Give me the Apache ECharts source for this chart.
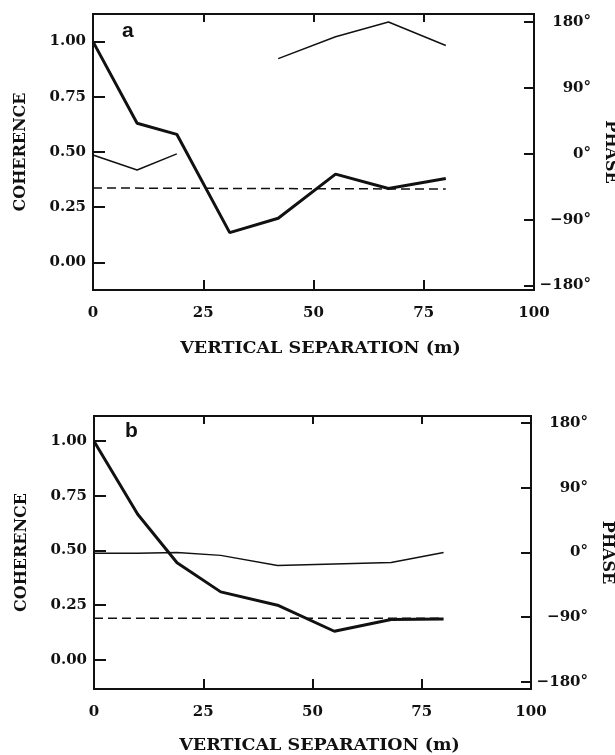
<!DOCTYPE html>
<html>
<head>
<meta charset="utf-8">
<script src="https://cdn.jsdelivr.net/npm/echarts@6/dist/echarts.min.js"></script>
<style>
  html, body { margin: 0; padding: 0; background: #fff; }
  #chart { width: 615px; height: 755px; }
</style>
</head>
<body>
<div id="chart"></div>
<script>
// panel a
const sepA = [0, 10, 19, 31, 42, 55, 67, 80];
const cohA = [1.0, 0.63, 0.58, 0.135, 0.20, 0.40, 0.335, 0.38];
const phaseA = [-1.5, -22, 0, null, 130, 160, 180, 148];
const sigA = [0.337, 0.332];

// panel b
const sepB = [0, 10, 19, 29, 42, 55, 68, 80];
const cohB = [1.0, 0.666, 0.444, 0.311, 0.25, 0.131, 0.185, 0.187];
const phaseB = [-1, -1, 0, -4, -18, -16, -14, 0];
const sigB = [0.19, 0.19];
const sigX = [0, 80];

// tick labels
const xTicks = [0, 25, 50, 75, 100];
const xInnerTicks = [25, 50, 75];
const cohTicks = [0, 0.25, 0.5, 0.75, 1];
const phaseTicks = [-180, -90, 0, 90, 180];

const ink = "#111";
const serif = "DejaVu Serif";

function pairs(xs, ys) {
  return xs.map((x, i) => [x, ys[i] == null ? "-" : ys[i]]);
}

function xAxes(grid, gap) {
  return [
    {
      gridIndex: grid, type: "value", min: 0, max: 100, position: "bottom",
      name: "VERTICAL SEPARATION (m)", nameLocation: "middle", nameGap: gap,
      nameTextStyle: { fontFamily: serif, fontWeight: "bold", fontSize: 17.5, color: ink, padding: [0, 0, 0, 14] },
      axisLine: { show: false, onZero: false }, splitLine: { show: false },
      axisTick: { inside: true, length: 10, customValues: xInnerTicks, lineStyle: { color: ink, width: 2 } },
      axisLabel: { customValues: xTicks, margin: 16, fontFamily: serif, fontWeight: "bold", fontSize: 15, color: ink }
    },
    {
      gridIndex: grid, type: "value", min: 0, max: 100, position: "top",
      axisLine: { show: false, onZero: false }, splitLine: { show: false }, axisLabel: { show: false },
      axisTick: { inside: true, length: 8, customValues: xInnerTicks, lineStyle: { color: ink, width: 2 } }
    }
  ];
}

function yAxes(grid, cmin, cmax, pmin, pmax) {
  return [
    {
      gridIndex: grid, type: "value", min: cmin, max: cmax, position: "left",
      name: "COHERENCE", nameLocation: "middle", nameGap: 64, nameRotate: 90,
      nameTextStyle: { fontFamily: serif, fontWeight: "bold", fontSize: 16, color: ink },
      axisLine: { show: false, onZero: false }, splitLine: { show: false },
      axisTick: { inside: true, length: 12, customValues: cohTicks, lineStyle: { color: ink, width: 2 } },
      axisLabel: {
        customValues: cohTicks, margin: 7, fontFamily: serif, fontWeight: "bold", fontSize: 15, color: ink,
        formatter: v => v.toFixed(2)
      }
    },
    {
      gridIndex: grid, type: "value", min: pmin, max: pmax, position: "right",
      name: "PHASE", nameLocation: "middle", nameGap: 64, nameRotate: -90,
      nameTextStyle: { fontFamily: serif, fontWeight: "bold", fontSize: 16, color: ink },
      axisLine: { show: false, onZero: false }, splitLine: { show: false },
      axisTick: { inside: true, length: 10, customValues: phaseTicks, lineStyle: { color: ink, width: 2 } },
      axisLabel: {
        customValues: phaseTicks, margin: 57, align: "right", fontFamily: serif, fontWeight: "bold", fontSize: 15, color: ink,
        formatter: v => (v < 0 ? "\u2212" + Math.abs(v) : v) + "\u00B0"
      }
    }
  ];
}

function panelSeries(xi, yi, sep, coh, phase, sig) {
  const base = { type: "line", showSymbol: false, symbol: "none", silent: true, animation: false };
  return [
    Object.assign({}, base, { xAxisIndex: xi, yAxisIndex: yi, data: pairs(sep, coh), lineStyle: { color: ink, width: 3 } }),
    Object.assign({}, base, { xAxisIndex: xi, yAxisIndex: yi, data: pairs(sigX, sig), lineStyle: { color: ink, width: 1.5, type: [9, 5] } }),
    Object.assign({}, base, { xAxisIndex: xi, yAxisIndex: yi + 1, data: pairs(sep, phase), connectNulls: false, lineStyle: { color: ink, width: 1.5 } })
  ];
}

const chart = echarts.init(document.getElementById("chart"));
chart.setOption({
  backgroundColor: "#fff",
  animation: false,
  grid: [
    { left: 93, right: 81, top: 14, height: 276, containLabel: false, outerBoundsMode: "none", show: true, borderColor: ink, borderWidth: 2 },
    { left: 94, right: 84, top: 416, height: 273, containLabel: false, outerBoundsMode: "none", show: true, borderColor: ink, borderWidth: 2 }
  ],
  xAxis: xAxes(0, 49).concat(xAxes(1, 47)),
  yAxis: yAxes(0, -0.125, 1.125, -186, 191).concat(yAxes(1, -0.133, 1.115, -190, 190)),
  series: panelSeries(0, 0, sepA, cohA, phaseA, sigA).concat(panelSeries(2, 2, sepB, cohB, phaseB, sigB)),
  graphic: [
    { type: "text", left: 122, top: 21, style: { text: "a", font: 'bold 21px "Liberation Sans"', fill: ink } },
    { type: "text", left: 125, top: 421, style: { text: "b", font: 'bold 21px "Liberation Sans"', fill: ink } }
  ]
});
</script>
</body>
</html>
